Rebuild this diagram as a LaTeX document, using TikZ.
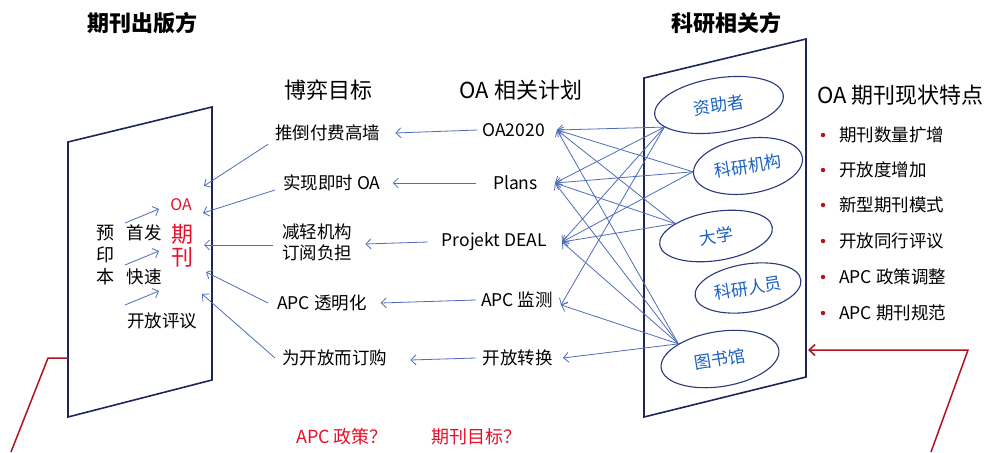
\documentclass[tikz,border=0pt]{standalone}
\usepackage{fontspec}
\newfontfamily\cjk{Noto Sans CJK SC}
\usetikzlibrary{arrows.meta,shapes.geometric}
\definecolor{navy}{HTML}{1E2558}
\definecolor{connc}{HTML}{4F6DB8}
\definecolor{ellc}{HTML}{2B3A78}
\definecolor{elltxt}{HTML}{1A62C0}
\definecolor{darkred}{HTML}{B3131F}
\definecolor{brightred}{HTML}{E5102C}
\begin{document}
\begin{tikzpicture}[x=1pt,y=-1pt,
  panel/.style={draw=navy, line width=1.6pt, line join=miter},
  conn/.style={draw=connc, line width=0.8pt, -{Straight Barb[length=5pt,width=10pt]}},
  redline/.style={draw=darkred, line width=1.5pt},
  title/.style={font=\cjk\bfseries\fontsize{22}{26}\selectfont, inner sep=0},
  head/.style={font=\cjk\fontsize{22}{26}\selectfont, inner sep=0},
  txt/.style={font=\cjk\fontsize{17.5}{21}\selectfont, inner sep=0},
  redt/.style={font=\cjk\fontsize{18}{22}\selectfont, text=brightred, inner sep=0},
  ell/.style={ellipse, draw=ellc, line width=1.1pt, inner sep=0, rotate=9,
    text=elltxt, font=\cjk\fontsize{17}{20}\selectfont},
  dot/.style={circle, fill=darkred, inner sep=0, minimum size=4.5pt},
]
\useasboundingbox (0,0) rectangle (1000,452);
\fill[white] (0,0) rectangle (1000,452);

% headings
\node[title] (tpub) at (142,23) {期刊出版方};
\node[title] (tsci) at (726,23) {科研相关方};
\node[head] (tgoal) at (328,90) {博弈目标};
\node[head] (tplan) at (521,90) {OA 相关计划};
\node[head, anchor=west] (tfeat) at (817,95) {OA 期刊现状特点};

% panels
\draw[panel] (68,142) -- (212,107) -- (212,380) -- (68,417) -- cycle;
\draw[panel] (644,78) -- (806,39) -- (806,377) -- (644,417) -- cycle;

% left panel content
\node[txt, align=center, font=\cjk\fontsize{18}{22}\selectfont] (yyb) at (105,255) {预\\印\\本};
\node[txt] (sf) at (144,233) {首发};
\node[txt] (ks) at (144,277) {快速};
\node[txt] (kfpy) at (162,321) {开放评议};
\node[redt, font=\cjk\fontsize{16}{20}\selectfont] (oa) at (181,205) {OA};
\node[redt, align=center, font=\cjk\fontsize{22}{23}\selectfont] (qk) at (182,246) {期\\刊};
\coordinate (a1s) at (125,223); \coordinate (a1e) at (159,209);
\coordinate (a2s) at (125,265); \coordinate (a2e) at (159,251);
\coordinate (a3s) at (125,305); \coordinate (a3e) at (159,291);
\draw[conn] (a1s) -- (a1e);
\draw[conn] (a2s) -- (a2e);
\draw[conn] (a3s) -- (a3e);

% goals
\node[txt, anchor=west] (g1) at (275,133) {推倒付费高墙};
\node[txt, anchor=west] (g2) at (283,183) {实现即时 OA};
\node[txt, anchor=west, align=left] (g3) at (282,242) {减轻机构\\订阅负担};
\node[txt, anchor=west] (g4) at (277,303) {APC 透明化};
\node[txt, anchor=west] (g5) at (282,358) {为开放而订购};

\coordinate (q1) at (204,186);
\coordinate (q2) at (203,213);
\coordinate (q3) at (204,245);
\coordinate (q4) at (206,272);
\coordinate (q5) at (202,294);
\draw[conn] ([xshift=-7pt,yshift=-3pt]g1.south west) -- (q1);
\draw[conn] ([xshift=-8pt,yshift=-7pt]g2.west) -- (q2);
\draw[conn] ([xshift=-9pt,yshift=-3pt]g3.west) -- (q3);
\draw[conn] ([xshift=-9pt]g4.west) -- (q4);
\draw[conn] ([xshift=-7pt]g5.west) -- (q5);

% plans
\node[txt, anchor=east] (p1) at (545,130) {OA2020};
\node[txt, anchor=east] (p2) at (538,183) {Plans};
\node[txt, anchor=east] (p3) at (547,242) {Projekt DEAL};
\node[txt, anchor=east] (p4) at (553,300) {APC 监测};
\node[txt, anchor=east] (p5) at (553,358) {开放转换};

\draw[conn] ([xshift=-5pt]p1.west) -- ([xshift=15pt]g1.east);
\draw[conn] ([xshift=-17pt]p2.west) -- ([xshift=12pt]g2.east);
\draw[conn] ([xshift=-14pt]p3.west) -- ([xshift=13pt,yshift=-2pt]g3.east);
\draw[conn] ([xshift=-5pt]p4.west) -- ([xshift=14pt]g4.east);
\draw[conn] ([xshift=-7pt]p5.west) -- ([xshift=23pt,yshift=-2pt]g5.east);

% stakeholders
\node[ell, minimum width=130pt, minimum height=54pt] (e1) at (719,105) {资助者};
\node[ell, minimum width=110pt, minimum height=55pt] (e2) at (748,166) {科研机构};
\node[ell, minimum width=114pt, minimum height=49pt] (e3) at (716,236) {大学};
\node[ell, minimum width=107pt, minimum height=48pt] (e4) at (748,288) {科研人员};
\node[ell, minimum width=119pt, minimum height=55pt] (e5) at (720,359) {图书馆};

\coordinate (t1) at ([xshift=12pt]p1.east);
\coordinate (t2) at ([xshift=17pt]p2.east);
\coordinate (t3) at ([xshift=15pt]p3.east);
\coordinate (t4) at ([xshift=8pt,yshift=-5pt]p4.east);
\coordinate (t5) at ([xshift=10pt]p5.east);

\foreach \t in {t1,t2,t3,t4} \draw[conn] (e1.193) -- (\t);
\foreach \t in {t1,t2,t3} \draw[conn] (e2.177) -- (\t);
\foreach \t in {t1,t2,t3} \draw[conn] (e3.154) -- (\t);
\foreach \t in {t1,t2,t3,t4,t5} \draw[conn] (e5.151) -- (\t);

% features list
\node[dot] (b1) at (823,135) {}; \node[txt, anchor=west] (f1) at (839,135) {期刊数量扩增};
\node[dot] (b2) at (823,170) {}; \node[txt, anchor=west] (f2) at (839,170) {开放度增加};
\node[dot] (b3) at (823,205) {}; \node[txt, anchor=west] (f3) at (839,205) {新型期刊模式};
\node[dot] (b4) at (823,241) {}; \node[txt, anchor=west] (f4) at (839,241) {开放同行评议};
\node[dot] (b5) at (823,277) {}; \node[txt, anchor=west] (f5) at (839,277) {APC 政策调整};
\node[dot] (b6) at (823,313) {}; \node[txt, anchor=west] (f6) at (839,313) {APC 期刊规范};

% red feedback lines
\coordinate (L0) at (68,358); \coordinate (L1) at (48,358); \coordinate (L2) at (11,452);
\draw[redline] (L0) -- (L1) -- (L2);
\coordinate (R0) at (968,350); \coordinate (R1) at (808,350); \coordinate (R2) at (931,452);
\draw[redline, -{Straight Barb[length=6pt,width=11pt]}] (R2) -- (R0) -- (R1);

% bottom questions
\node[redt] (qa) at (342,437) {APC 政策？};
\node[redt] (qb) at (476,437) {期刊目标？};
\end{tikzpicture}
\end{document}
